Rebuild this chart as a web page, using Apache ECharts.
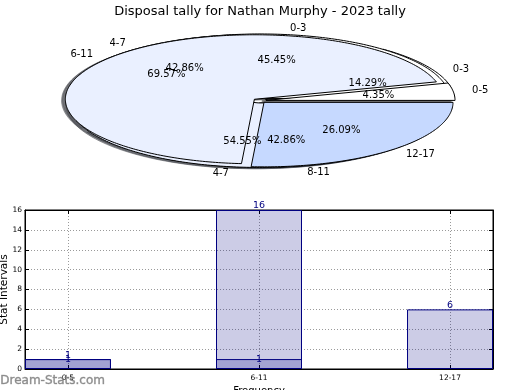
<!DOCTYPE html>
<html><head><meta charset="utf-8">
<script src="https://cdn.jsdelivr.net/npm/echarts@6/dist/echarts.min.js"></script>
<style>html,body{margin:0;padding:0;background:#fff}#c{width:520px;height:390px}</style>
</head><body><div id="c"></div>
<script>
// ---- data ----
const titleText = 'Disposal tally for Nathan Murphy - 2023 tally';
const pieALabels = ['0-3', '4-7'];
const pieAValues = [5, 6];
const pieBLabels = ['0-3', '4-7', '8-11'];
const pieBValues = [1, 3, 3];
const pieCLabels = ['0-5', '6-11', '12-17'];
const pieCValues = [1, 16, 6];
const barCategories = ['0-5', '6-11', '12-17'];
const barTotals = [1, 16, 6];
const barInner = [1, 1, null];
const xAxisName = 'Frequency';
const yAxisName = 'Stat Intervals';
const watermark = 'Dream-Stats.com';

// ---- style ----
const sliceColors = [[255, 255, 255], [234, 240, 255], [198, 217, 255]];
const EXPLODE = 0.035;
const SHADOW_OFF = -0.02;
const FONT = 'DejaVu Sans';

function geom(vals, i) {
  const tot = vals.reduce((a, b) => a + b, 0);
  let cum = 0;
  for (let j = 0; j < i; j++) cum += vals[j];
  const a0 = 2 * Math.PI * cum / tot;
  const a1 = 2 * Math.PI * (cum + vals[i]) / tot;
  const mid = (a0 + a1) / 2;
  return { a0, a1, mid, ox: EXPLODE * Math.cos(mid), oy: EXPLODE * Math.sin(mid), frac: vals[i] / tot };
}

function wedgePoints(api, g, dx, dy) {
  const pts = [api.coord([g.ox + dx, g.oy + dy])];
  const n = Math.max(2, Math.ceil((g.a1 - g.a0) / (Math.PI / 180)));
  for (let k = 0; k <= n; k++) {
    const a = g.a0 + (g.a1 - g.a0) * k / n;
    pts.push(api.coord([g.ox + dx + Math.cos(a), g.oy + dy + Math.sin(a)]));
  }
  return pts;
}

function pieSeries(vals, labels) {
  const data = vals.map(v => [v]);
  const common = { type: 'custom', coordinateSystem: 'cartesian2d', xAxisIndex: 2, yAxisIndex: 2,
    data, encode: { x: 0, y: 0 }, clip: false, silent: true, animation: false };
  const shadow = Object.assign({}, common, {
    z: 1,
    renderItem(params, api) {
      const i = params.dataIndex;
      const g = geom(vals, i);
      const c = sliceColors[i % sliceColors.length];
      const col = 'rgba(' + c.map(x => Math.round(x * 0.3)).join(',') + ',0.5)';
      return { type: 'polygon', shape: { points: wedgePoints(api, g, SHADOW_OFF, SHADOW_OFF) },
        style: { fill: col, stroke: col, lineWidth: 1 } };
    }
  });
  const wedge = Object.assign({}, common, {
    z: 2,
    renderItem(params, api) {
      const i = params.dataIndex;
      const g = geom(vals, i);
      const c = sliceColors[i % sliceColors.length];
      return { type: 'polygon', shape: { points: wedgePoints(api, g, 0, 0) },
        style: { fill: 'rgb(' + c.join(',') + ')', stroke: '#000', lineWidth: 1, lineJoin: 'round' } };
    }
  });
  const text = Object.assign({}, common, {
    z: 3,
    renderItem(params, api) {
      const i = params.dataIndex;
      const g = geom(vals, i);
      const xt = g.ox + 1.1 * Math.cos(g.mid), yt = g.oy + 1.1 * Math.sin(g.mid);
      const p1 = api.coord([xt, yt]);
      const p2 = api.coord([g.ox + 0.6 * Math.cos(g.mid), g.oy + 0.6 * Math.sin(g.mid)]);
      return { type: 'group', children: [
        { type: 'text', x: p1[0], y: p1[1], style: { text: labels[i], fill: '#000', font: '10px ' + FONT,
          align: xt > 0 ? 'left' : 'right', verticalAlign: 'middle' } },
        { type: 'text', x: p2[0], y: p2[1], style: { text: (g.frac * 100).toFixed(2) + '%', fill: '#000', font: '10px ' + FONT,
          align: 'center', verticalAlign: 'middle' } }
      ] };
    }
  });
  return [shadow, wedge, text];
}

const pA = pieSeries(pieAValues, pieALabels);
const pB = pieSeries(pieBValues, pieBLabels);
const pC = pieSeries(pieCValues, pieCLabels);

const tickVals = barCategories.map((c, i) => i);
const dotted = { type: [1, 2], color: '#9a9a9a', width: 1 };

const option = {
  animation: false,
  backgroundColor: '#fff',
  textStyle: { fontFamily: FONT },
  title: { text: titleText, left: 'center', top: 0,
    textStyle: { fontFamily: FONT, fontSize: 13, fontWeight: 'normal', color: '#000' } },
  grid: [
    { left: 25, right: 27, top: 210, bottom: 21, show: true, borderColor: '#000', borderWidth: 1,
      backgroundColor: 'transparent', containLabel: false, outerBoundsMode: 'none' },
    { left: 70.5, width: 378, top: 36.2, height: 129, show: false, containLabel: false, outerBoundsMode: 'none' }
  ],
  xAxis: [
    { gridIndex: 0, type: 'value', min: -0.225, max: 2.225, position: 'bottom',
      axisLine: { show: true, onZero: false, lineStyle: { color: '#000' } },
      axisTick: { show: true, inside: true, length: 4, customValues: tickVals, lineStyle: { color: '#000' } },
      axisLabel: { customValues: tickVals, formatter: v => barCategories[Math.round(v)], fontSize: 7.5, color: '#000', margin: 5, fontFamily: FONT },
      splitLine: { show: true, lineStyle: dotted },
      name: xAxisName, nameLocation: 'middle', nameGap: 17, nameMoveOverlap: false,
      nameTextStyle: { fontSize: 10, color: '#000', fontFamily: FONT, verticalAlign: 'top' } },
    { gridIndex: 0, type: 'value', min: -0.225, max: 2.225, position: 'top',
      axisLine: { show: true, onZero: false, lineStyle: { color: '#000' } },
      axisTick: { show: true, inside: true, length: 4, customValues: tickVals, lineStyle: { color: '#000' } },
      axisLabel: { show: false }, splitLine: { show: false } },
    { gridIndex: 1, type: 'value', min: -1, max: 1, show: false }
  ],
  yAxis: [
    { gridIndex: 0, type: 'value', min: 0, max: 16, interval: 2, position: 'left',
      axisLine: { show: true, onZero: false, lineStyle: { color: '#000' } },
      axisTick: { show: true, inside: true, length: 4, lineStyle: { color: '#000' } },
      axisLabel: { fontSize: 7.5, color: '#000', margin: 3, fontFamily: FONT },
      splitLine: { show: true, lineStyle: dotted },
      name: yAxisName, nameLocation: 'middle', nameGap: 15, nameMoveOverlap: false,
      nameTextStyle: { fontSize: 10.5, color: '#000', fontFamily: FONT } },
    { gridIndex: 0, type: 'value', min: 0, max: 16, interval: 2, position: 'right',
      axisLine: { show: true, onZero: false, lineStyle: { color: '#000' } },
      axisTick: { show: true, inside: true, length: 4, lineStyle: { color: '#000' } },
      axisLabel: { show: false }, splitLine: { show: false } },
    { gridIndex: 1, type: 'value', min: -1, max: 1, show: false }
  ],
  graphic: [
    { type: 'text', left: 0, top: 375, z: 100,
      style: { text: watermark, fill: 'rgba(120,120,120,0.8)', font: '12px ' + FONT,
        stroke: 'rgba(120,120,120,0.6)', lineWidth: 0.5 } }
  ],
  series: [
    ...[pB[0], pA[0], pC[0]],
    ...[pB[1], pA[1], pC[1]],
    ...[pB[2], pA[2], pC[2]],
    { type: 'bar', xAxisIndex: 0, yAxisIndex: 0, barWidth: 86, barGap: '-100%',
      data: barCategories.map((c, i) => [i, barTotals[i]]),
      itemStyle: { color: 'rgba(0,0,128,0.2)', borderColor: '#000080', borderWidth: 1 },
      label: { show: true, position: 'top', distance: -1, color: '#000080', fontSize: 9.5, fontFamily: FONT } },
    { type: 'bar', xAxisIndex: 0, yAxisIndex: 0, barWidth: 86, barGap: '-100%',
      data: barCategories.map((c, i) => [i, barInner[i]]).filter(d => d[1] != null),
      itemStyle: { color: 'rgba(0,0,128,0.2)', borderColor: '#000080', borderWidth: 1 },
      label: { show: true, position: 'top', distance: -5, color: '#000080', fontSize: 9.5, fontFamily: FONT } }
  ]
};
const chart = echarts.init(document.getElementById('c'), null, { renderer: 'canvas' });
chart.setOption(option);
</script></body></html>
